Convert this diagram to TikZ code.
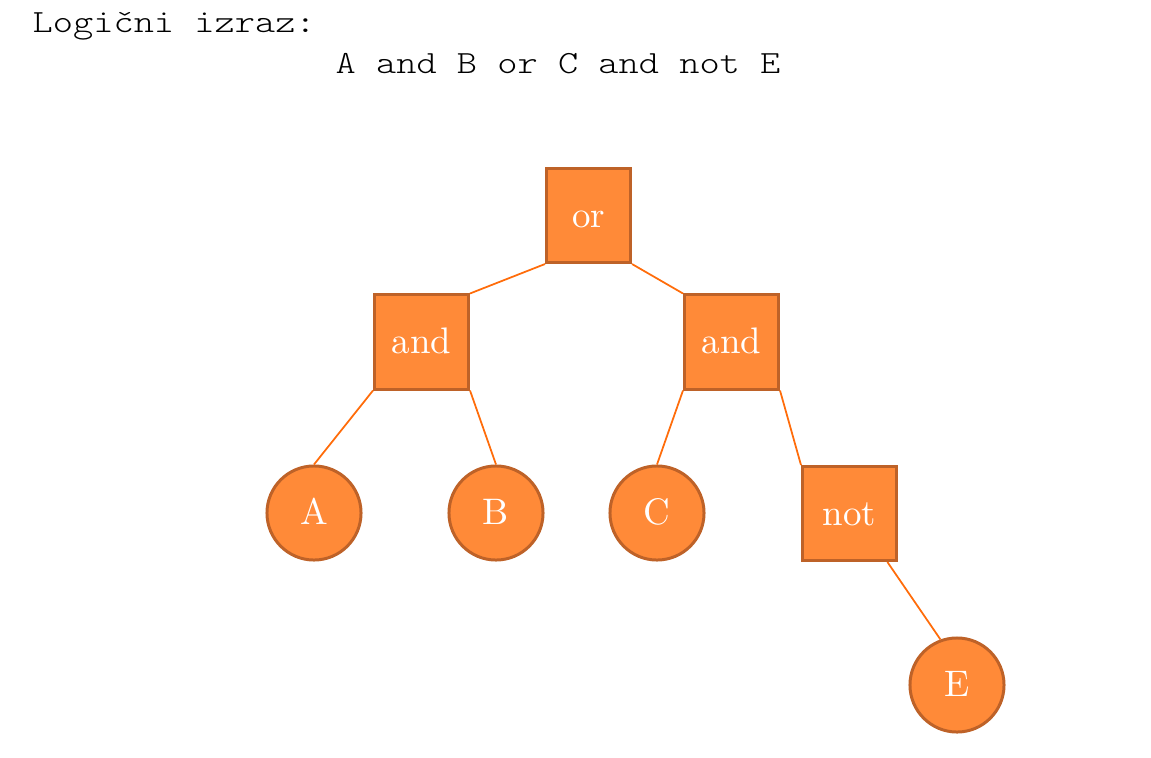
\documentclass[tikz,border=0pt]{standalone}
\usepackage{fontspec}
\newfontfamily\monofont[FakeStretch=1.19]{lmmonolt10-regular.otf}
\definecolor{cvorFill}{RGB}{255,138,56}
\definecolor{cvorRub}{RGB}{190,98,40}
\definecolor{grana}{RGB}{255,108,10}
\tikzset{
    operator/.style={rectangle, draw=cvorRub, fill=cvorFill, line width=0.85pt,
        minimum size=0.94cm, inner sep=0pt, text=white, text height=7.5pt, text depth=0.7pt,
        font=\fontsize{10.5}{12}\selectfont},
    varijabla/.style={circle, draw=cvorRub, fill=cvorFill, line width=0.85pt,
        minimum size=0.94cm, inner sep=0pt, text=white, text height=7.5pt, text depth=0.7pt,
        font=\fontsize{10.5}{12}\selectfont},
    veza/.style={draw=grana, line width=0.5pt}
}
\begin{document}
\begin{tikzpicture}[x=0.01cm, y=-0.01cm]
    \useasboundingbox (0,0) rectangle (1151,757);

    %naslov
    \node[anchor=base west, inner sep=0pt, font=\monofont\fontsize{9.2}{11}\selectfont] (naslov) at (32,32) {Logični izraz:};
    \node[anchor=base west, inner sep=0pt, font=\monofont\fontsize{9.2}{11}\selectfont] (izraz) at (335,73) {A and B or C and not E};

    %operatori
    \foreach \ime/\x/\y/\sirina/\tekst in {
        or/588.5/215.5/0.84cm/or, andL/421.5/342/0.94cm/and, andR/731.5/342/0.94cm/and, not/849.5/513.5/0.94cm/not
    } {
        \node[operator, minimum width=\sirina] (\ime) at (\x,\y) {\tekst};
    }
    %varijable
    \foreach \ime/\x/\y in {
        A/314/513, B/496/513, C/657/513, E/957/685
    } {
        \node[varijabla] (\ime) at (\x,\y) {\ime};
    }

    %grane
    \draw[veza] (or.south west) -- (andL.north east);
    \draw[veza] (or.south east) -- (andR.north west);
    \draw[veza] (andL.south west) -- (A.north);
    \draw[veza] (andL.south east) -- (B.north);
    \draw[veza] (andR.south west) -- (C.north);
    \draw[veza] (andR.south east) -- (not.north west);
    \draw[veza] (not.-52) -- (E.110);
\end{tikzpicture}
\end{document}
